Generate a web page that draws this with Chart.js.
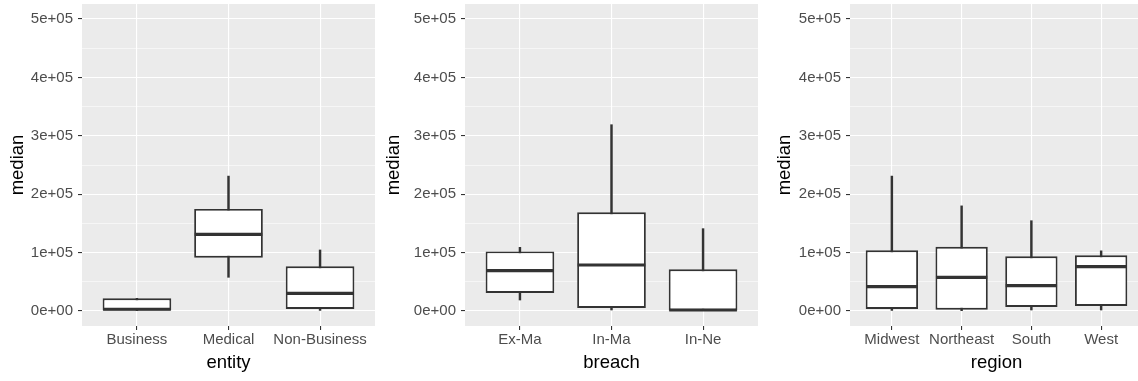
<!DOCTYPE html>
<html>
<head>
<meta charset="utf-8">
<script src="https://cdn.jsdelivr.net/npm/chart.js@4.4.0/dist/chart.umd.min.js"></script>
<style>
body { margin: 0; background: #fff; width: 1138px; height: 381px; overflow: hidden; position: relative; }
canvas { position: absolute; top: 0; }
</style>
</head>
<body>
<canvas id="entity-chart" width="378" height="381" style="left:0px"></canvas>
<canvas id="breach-chart" width="378" height="381" style="left:380px"></canvas>
<canvas id="region-chart" width="384" height="381" style="left:760px"></canvas>
<script>
// box plot stats: whisker low, q1, median, q3, whisker high
const entityCats = ["Business", "Medical", "Non-Business"]
const entityMin = [500, 57700, 1000]
const entityQ1 = [1000, 91300, 3400]
const entityMed = [3000, 131300, 30000]
const entityQ3 = [21700, 174700, 76500]
const entityMax = [21700, 231000, 104500]

const breachCats = ["Ex-Ma", "In-Ma", "In-Ne"]
const breachMin = [18800, 1700, 0]
const breachQ1 = [30800, 5100, 500]
const breachMed = [69000, 78800, 1700]
const breachQ3 = [102000, 169000, 71400]
const breachMax = [109000, 319000, 141000]

const regionCats = ["Midwest", "Northeast", "South", "West"]
const regionMin = [1000, 500, 1700, 1700]
const regionQ1 = [3400, 2200, 6800, 8600]
const regionMed = [41600, 57700, 43300, 76000]
const regionQ3 = [104000, 110000, 93600, 95300]
const regionMax = [231000, 180000, 154600, 103000]

const yBreaks = [0, 50000, 100000, 150000, 200000, 250000, 300000, 350000, 400000, 450000, 500000]
const yLabels = ["0e+00", "", "1e+05", "", "2e+05", "", "3e+05", "", "4e+05", "", "5e+05"]

const fontFamily = "'Liberation Sans', Arial, Helvetica, sans-serif"

const panelBg = {
    id: "panelBg",
    beforeDraw(chart) {
        const a = chart.chartArea
        const ctx = chart.ctx
        ctx.save()
        ctx.fillStyle = "#EBEBEB"
        ctx.fillRect(a.left, a.top, a.right - a.left, a.bottom - a.top)
        ctx.restore()
    }
}

// median bar across each box, using the box element's own x/width
const medianLines = {
    id: "medianLines",
    afterDatasetsDraw(chart) {
        const ctx = chart.ctx
        const yScale = chart.scales.y
        const boxes = chart.getDatasetMeta(1).data
        const meds = chart.data.datasets[1].medians
        ctx.save()
        ctx.strokeStyle = "#333333"
        ctx.lineWidth = 3.2
        boxes.forEach((b, i) => {
            const y = yScale.getPixelForValue(meds[i])
            ctx.beginPath()
            ctx.moveTo(b.x - b.width / 2 + 0.5, y)
            ctx.lineTo(b.x + b.width / 2 - 0.5, y)
            ctx.stroke()
        })
        ctx.restore()
    }
}

function boxChart(id, cats, mins, q1s, meds, q3s, maxs, title, yWidth, titlePad, rightPad) {
    const isMajor = c => c.tick && c.tick.value % 100000 === 0
    new Chart(document.getElementById(id), {
        type: "bar",
        data: {
            datasets: [
                {
                    data: cats.map((c, i) => ({ x: i, y: [mins[i], maxs[i]] })),
                    backgroundColor: "#333333",
                    barThickness: 1.8,
                    grouped: false,
                    order: 1
                },
                {
                    data: cats.map((c, i) => ({ x: i, y: [q1s[i], q3s[i]] })),
                    medians: meds,
                    backgroundColor: "#ffffff",
                    borderColor: "#333333",
                    borderWidth: 1.9,
                    borderSkipped: false,
                    barPercentage: 0.75,
                    categoryPercentage: 1,
                    grouped: false,
                    order: 0
                }
            ]
        },
        options: {
            responsive: false,
            animation: false,
            layout: { padding: { top: 4, right: rightPad, left: 0, bottom: 0 } },
            plugins: {
                legend: { display: false },
                tooltip: { enabled: false }
            },
            scales: {
                x: {
                    type: "linear",
                    min: -0.6,
                    max: cats.length - 0.4,
                    bounds: "data",
                    offset: false,
                    afterBuildTicks: s => { s.ticks = cats.map((c, i) => ({ value: i })) },
                    afterFit: s => { s.height = 55; s.paddingLeft = 0; s.paddingRight = 0 },
                    grid: { offset: false, color: "#ffffff", lineWidth: 1.1, tickColor: "#333333", tickWidth: 1.1, tickLength: 4 },
                    border: { display: false },
                    ticks: {
                        callback: v => cats[v],
                        autoSkip: false,
                        maxRotation: 0,
                        color: "#4D4D4D",
                        padding: 1,
                        font: { family: fontFamily, size: 15 }
                    },
                    title: {
                        display: true,
                        text: title,
                        color: "#000000",
                        padding: { top: 0, bottom: 7 },
                        font: { family: fontFamily, size: 18.5 }
                    }
                },
                y: {
                    min: -25700,
                    max: 525700,
                    bounds: "data",
                    afterBuildTicks: s => { s.ticks = yBreaks.map(v => ({ value: v })) },
                    afterFit: s => { s.width = yWidth; s.paddingTop = 0; s.paddingBottom = 0 },
                    grid: {
                        color: "#ffffff",
                        lineWidth: c => isMajor(c) ? 1.1 : 0.55,
                        tickColor: c => isMajor(c) ? "#333333" : "rgba(0,0,0,0)",
                        tickWidth: 1.1,
                        tickLength: 4
                    },
                    border: { display: false },
                    ticks: {
                        callback: v => yLabels[yBreaks.indexOf(v)],
                        autoSkip: false,
                        color: "#4D4D4D",
                        padding: 5,
                        font: { family: fontFamily, size: 15 }
                    },
                    title: {
                        display: true,
                        text: "median",
                        color: "#000000",
                        padding: { top: titlePad, bottom: 0 },
                        font: { family: fontFamily, size: 18.5 }
                    }
                }
            }
        },
        plugins: [panelBg, medianLines]
    })
}

boxChart("entity-chart", entityCats, entityMin, entityQ1, entityMed, entityQ3, entityMax, "entity", 82, 6.4, 3)
boxChart("breach-chart", breachCats, breachMin, breachQ1, breachMed, breachQ3, breachMax, "breach", 85, 3.1, 0)
boxChart("region-chart", regionCats, regionMin, regionQ1, regionMed, regionQ3, regionMax, "region", 90, 13.7, 1)
</script>
</body>
</html>
